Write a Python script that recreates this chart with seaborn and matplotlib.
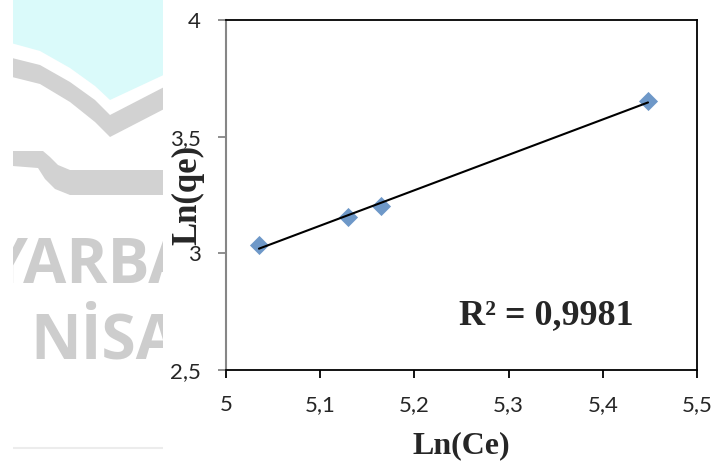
import numpy as np
import pandas as pd
import matplotlib
matplotlib.use("Agg")
import matplotlib.pyplot as plt
from matplotlib.patches import Polygon
from matplotlib.ticker import FuncFormatter
import seaborn as sns

# Freundlich isotherm data (linearised)
ln_ce = [5.035, 5.130, 5.165, 5.448]
ln_qe = [3.036, 3.156, 3.203, 3.653]
r_squared_label = "R² = 0,9981"
x_ticks = [5.0, 5.1, 5.2, 5.3, 5.4, 5.5]
y_ticks = [2.5, 3.0, 3.5, 4.0]

df = pd.DataFrame({"Ln(Ce)": ln_ce, "Ln(qe)": ln_qe})

sns.set_style("white")
plt.rcParams["font.family"] = ["Lato", "DejaVu Sans"]

W, H = 722, 465
fig = plt.figure(figsize=(W / 100, H / 100), dpi=100)
fig.patch.set_facecolor("white")

# ---- faint page watermark on the left ----
bg = fig.add_axes([13 / W, 0, 150 / W, 1], zorder=-5)
bg.set_xlim(13, 163)
bg.set_ylim(H, 0)
bg.axis("off")
cyan = "#dafafa"
grey = "#d2d2d2"
bg.add_patch(Polygon([(0, 0), (170, 0), (170, 72), (110, 100), (95, 86), (70, 68),
                      (40, 51), (0, 40)], closed=True, fc=cyan, ec="none"))
bg.add_patch(Polygon([(0, 55), (40, 65), (70, 82), (95, 100), (110, 115), (170, 84),
                      (170, 106), (110, 137), (95, 122), (70, 102), (40, 84), (0, 74)],
                     closed=True, fc=grey, ec="none"))
bg.add_patch(Polygon([(0, 151), (43, 151), (50, 157), (58, 165), (70, 170), (170, 170),
                      (170, 195), (70, 195), (55, 189), (45, 179), (38, 168), (0, 165)],
                     closed=True, fc=grey, ec="none"))
bg.text(-12, 283, "YARBAKIR", fontsize=45, fontweight="bold", family="Open Sans",
        color="#cdcdcd", ha="left", va="baseline", clip_on=True)
bg.text(30, 358, "NİSAN", fontsize=45, fontweight="bold", family="Open Sans",
        color="#cdcdcd", ha="left", va="baseline", clip_on=True)
bg.plot([13, 163], [448, 448], color="#ececec", lw=1.5, clip_on=True)

# ---- chart ----
ax = fig.add_axes([226 / W, 1 - 370 / H, (697 - 226) / W, (370 - 20) / H])
ax.set_facecolor("white")

sns.regplot(data=df, x="Ln(Ce)", y="Ln(qe)", ax=ax, ci=None, marker="D",
            scatter_kws={"s": 95, "color": "#4a7ebb", "linewidths": 0, "zorder": 3},
            line_kws={"color": "black", "lw": 1.5, "zorder": 4})

ax.set_xlim(5.0, 5.5)
ax.set_ylim(2.5, 4.0)
ax.set_xticks(x_ticks)
ax.set_yticks(y_ticks)
comma = FuncFormatter(lambda v, p: f"{v:g}".replace(".", ","))
ax.xaxis.set_major_formatter(comma)
ax.yaxis.set_major_formatter(comma)

ax.tick_params(axis="x", direction="out", length=6, width=1.3, color="black",
               labelsize=16, pad=12, bottom=True)
ax.tick_params(axis="y", direction="out", length=6, width=1.3, color="#868686",
               labelsize=16, pad=12, left=True)

for side in ("top", "right", "bottom"):
    ax.spines[side].set_visible(True)
    ax.spines[side].set_color("black")
    ax.spines[side].set_linewidth(1.3)
ax.spines["left"].set_color("#868686")
ax.spines["left"].set_linewidth(1.5)

serif_bold = {"family": ["Liberation Serif", "DejaVu Serif"], "weight": "bold"}
ax.set_xlabel("Ln(Ce)", fontdict=serif_bold, fontsize=23, labelpad=12)
ax.set_ylabel("Ln(qe)", fontdict=serif_bold, fontsize=25, va="center")
ax.yaxis.set_label_coords(-0.081, 0.5)

ax.text(5.340, 2.735, r_squared_label, fontdict=serif_bold, fontsize=26,
        ha="center", va="center")

fig.savefig("out.png", dpi=100)
